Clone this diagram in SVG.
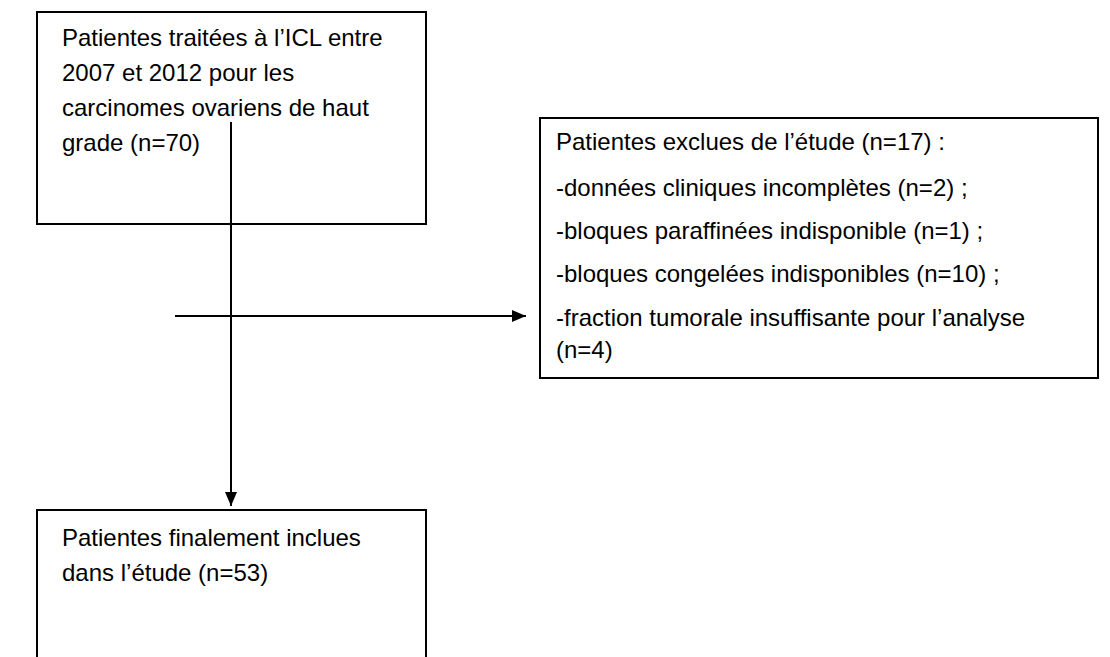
<svg xmlns="http://www.w3.org/2000/svg" width="1110" height="657" viewBox="0 0 1110 657">
<style>
.box{fill:#fff;stroke:#000;stroke-width:2}
.t{font-family:"Liberation Sans",Arial,sans-serif;font-size:24px;fill:#000}
.c{stroke:#000;stroke-width:2;fill:none}
</style>
<defs>
<marker id="ah" markerWidth="14" markerHeight="12" refX="14" refY="6" orient="auto" markerUnits="userSpaceOnUse" viewBox="0 0 14 12">
<path d="M0,0 L14,6 L0,12 z" fill="#000"/>
</marker>
</defs>
<rect width="1110" height="657" fill="#fff"/>
<g id="n1">
<rect class="box" x="37" y="12" width="389" height="212"/>
<text class="t" x="62" y="46">Patientes traitées à l’ICL entre</text>
<text class="t" x="62" y="81">2007 et 2012 pour les</text>
<text class="t" x="62" y="116">carcinomes ovariens de haut</text>
<text class="t" x="62" y="151">grade (n=70)</text>
</g>
<g id="n2">
<rect class="box" x="540" y="118" width="558" height="260"/>
<text class="t" x="556" y="150">Patientes exclues de l’étude (n=17) :</text>
<text class="t" x="556" y="196">-données cliniques incomplètes (n=2) ;</text>
<text class="t" x="556" y="239">-bloques paraffinées indisponible (n=1) ;</text>
<text class="t" x="556" y="282">-bloques congelées indisponibles (n=10) ;</text>
<text class="t" x="556" y="326">-fraction tumorale insuffisante pour l’analyse</text>
<text class="t" x="556" y="358">(n=4)</text>
</g>
<g id="n3">
<path class="box" d="M37,670 V510 H426 V670"/>
<text class="t" x="62" y="546">Patientes finalement inclues</text>
<text class="t" x="62" y="581">dans l’étude (n=53)</text>
</g>
<g id="connectors">
<line class="c" x1="231" y1="122" x2="231" y2="506" marker-end="url(#ah)"/>
<line class="c" x1="175" y1="316" x2="526" y2="316" marker-end="url(#ah)"/>
</g>
</svg>
